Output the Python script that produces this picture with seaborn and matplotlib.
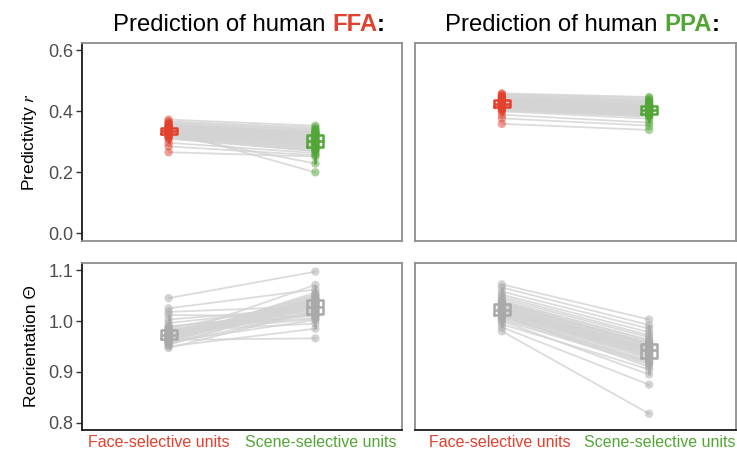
import seaborn as sns
import matplotlib.pyplot as plt
import matplotlib.transforms as mtransforms
import pandas as pd

categories = ['Face-selective units', 'Scene-selective units']
targets = ['FFA', 'PPA']

# predictivity r (top row)
ffa_face_r = [0.335, 0.342, 0.328, 0.351, 0.319, 0.362, 0.331, 0.345, 0.312, 0.338,
              0.325, 0.372, 0.347, 0.333, 0.296, 0.341, 0.329, 0.356, 0.318, 0.336,
              0.343, 0.322, 0.265, 0.349, 0.331, 0.358, 0.309, 0.327, 0.339, 0.284,
              0.344, 0.315, 0.334, 0.353, 0.324, 0.366, 0.337, 0.321, 0.330, 0.346]
ffa_scene_r = [0.305, 0.318, 0.292, 0.334, 0.276, 0.341, 0.299, 0.322, 0.268, 0.310,
               0.287, 0.352, 0.326, 0.301, 0.262, 0.315, 0.295, 0.331, 0.279, 0.307,
               0.320, 0.283, 0.251, 0.327, 0.298, 0.338, 0.270, 0.290, 0.312, 0.255,
               0.317, 0.274, 0.199, 0.329, 0.286, 0.346, 0.303, 0.228, 0.296, 0.323]
ppa_face_r = [0.425, 0.432, 0.418, 0.441, 0.409, 0.452, 0.421, 0.436, 0.402, 0.428,
              0.415, 0.458, 0.437, 0.423, 0.388, 0.431, 0.419, 0.446, 0.408, 0.426,
              0.433, 0.412, 0.358, 0.439, 0.421, 0.448, 0.399, 0.417, 0.429, 0.376,
              0.434, 0.405, 0.424, 0.443, 0.414, 0.455, 0.427, 0.411, 0.420, 0.436]
ppa_scene_r = [0.404, 0.413, 0.397, 0.425, 0.388, 0.437, 0.401, 0.418, 0.382, 0.407,
               0.394, 0.446, 0.419, 0.402, 0.362, 0.410, 0.398, 0.431, 0.386, 0.405,
               0.414, 0.391, 0.338, 0.421, 0.399, 0.433, 0.375, 0.395, 0.409, 0.352,
               0.416, 0.383, 0.403, 0.427, 0.392, 0.442, 0.406, 0.389, 0.400, 0.417]

# reorientation (bottom row)
ffa_face_o = [0.972, 0.965, 0.981, 0.958, 0.990, 0.969, 0.975, 0.953, 0.984, 0.962,
              1.045, 0.977, 0.967, 0.996, 0.959, 0.973, 0.988, 0.964, 0.979, 0.950,
              0.970, 1.012, 0.961, 0.983, 0.974, 0.956, 1.025, 0.968, 0.978, 0.963,
              0.986, 0.947, 0.971, 1.003, 0.966, 0.976, 0.955, 0.980, 1.018, 0.969]
ffa_scene_o = [1.028, 1.035, 1.019, 1.042, 1.011, 1.050, 1.024, 1.038, 1.006, 1.031,
               1.097, 1.015, 1.045, 1.027, 1.002, 1.040, 1.021, 1.056, 1.013, 0.985,
               1.033, 1.009, 1.048, 1.025, 1.036, 1.017, 1.062, 1.030, 1.004, 0.966,
               1.039, 1.020, 1.071, 1.026, 1.044, 1.012, 1.034, 0.995, 1.029, 1.052]
ppa_face_o = [1.022, 1.031, 1.015, 1.040, 1.008, 1.027, 1.019, 1.048, 1.002, 1.025,
              1.036, 1.011, 1.072, 1.020, 0.994, 1.029, 1.017, 1.058, 1.005, 1.024,
              1.033, 1.013, 0.980, 1.038, 1.021, 1.044, 1.000, 1.016, 1.028, 0.988,
              1.034, 1.009, 1.023, 1.066, 1.018, 1.052, 1.026, 1.012, 1.021, 1.035]
ppa_scene_o = [0.945, 0.952, 0.931, 0.963, 0.922, 0.948, 0.938, 0.972, 0.915, 0.943,
               0.956, 0.926, 1.003, 0.940, 0.905, 0.950, 0.934, 0.985, 0.918, 0.944,
               0.958, 0.929, 0.818, 0.961, 0.939, 0.968, 0.895, 0.933, 0.947, 0.875,
               0.954, 0.920, 0.942, 0.992, 0.936, 0.978, 0.946, 0.910, 0.941, 0.955]

RED = '#E2412D'
GREEN = '#52A636'
GRAY = '#A9A9A9'
LINE = '#D3D3D3'
BORDER = '#8E8E8E'

sns.set_style('white')
plt.rcParams['font.family'] = ['Liberation Sans', 'DejaVu Sans']
plt.rcParams['mathtext.fontset'] = 'stix'

fig = plt.figure(figsize=(7.37, 4.53), dpi=100)
W, H = 737, 453


def box(x0, y0, x1, y1):
    return [x0 / W, 1 - y1 / H, (x1 - x0) / W, (y1 - y0) / H]


cols = [(82, 402), (415, 736)]
rows = [(43, 241), (263, 430)]
# horizontal nudges (px) of the category labels under each column
label_shift = [(-10, 5), (-2, 11)]

panels = [
    [(ffa_face_r, ffa_scene_r), (ppa_face_r, ppa_scene_r)],
    [(ffa_face_o, ffa_scene_o), (ppa_face_o, ppa_scene_o)],
]

for i, (y0, y1) in enumerate(rows):
    for j, (x0, x1) in enumerate(cols):
        ax = fig.add_axes(box(x0, y0, x1, y1))
        face, scene = panels[i][j]
        n = len(face)
        df = pd.DataFrame({
            'unit': list(range(n)) * 2,
            'group': [categories[0]] * n + [categories[1]] * n,
            'pos': [0] * n + [1] * n,
            'value': face + scene,
        })
        pal = [RED, GREEN] if i == 0 else [GRAY, GRAY]

        sns.lineplot(data=df, x='pos', y='value', units='unit', estimator=None,
                     color=LINE, alpha=0.8, lw=1.3, ax=ax, zorder=1)
        sns.stripplot(data=df, x='pos', y='value', hue='group', palette=pal,
                      native_scale=True, jitter=False, dodge=False, size=6,
                      alpha=0.5, linewidth=0, legend=False, ax=ax, zorder=2)
        sns.boxplot(data=df, x='pos', y='value', hue='group', palette=pal,
                    native_scale=True, dodge=False, fill=False, width=0.11,
                    linewidth=1.8, showfliers=False, showcaps=False,
                    legend=False, ax=ax)

        ax.set_xlim(-0.59, 1.59)
        if i == 0:
            ax.set_ylim(-0.026, 0.623)
            ax.set_yticks([0.0, 0.2, 0.4, 0.6])
            ax.set_yticklabels(['0.0', '0.2', '0.4', '0.6'])
        else:
            ax.set_ylim(0.786, 1.114)
            ax.set_yticks([0.8, 0.9, 1.0, 1.1])
            ax.set_yticklabels(['0.8', '0.9', '1.0', '1.1'])

        ax.set_xlabel('')
        ax.set_ylabel('')
        ax.set_xticks([])
        if i == 1:
            for k, (lab, c) in enumerate(zip(categories, [RED, GREEN])):
                tr = (mtransforms.blended_transform_factory(ax.transData, ax.transAxes) +
                      mtransforms.ScaledTranslation(label_shift[j][k] / 100, -5 / 100,
                                                    fig.dpi_scale_trans))
                ax.text(k, 0, lab, transform=tr, ha='center', va='top',
                        fontsize=11.5, color=c)
        if j == 0:
            ax.tick_params(axis='y', length=4, width=1, color='#333333',
                           labelsize=13, labelcolor='#4D4D4D', pad=2, left=True)
            ax.set_ylabel('Predictivity $r$' if i == 0 else 'Reorientation Θ',
                          fontsize=12.5, color='black', labelpad=7)
        else:
            ax.tick_params(axis='y', length=0, labelleft=False)

        for s in ax.spines.values():
            s.set_color(BORDER)
            s.set_linewidth(1.3)
            s.set_visible(True)
        if j == 0:
            ax.spines['left'].set_color('#1A1A1A')
        if i == 1:
            ax.spines['bottom'].set_color('#1A1A1A')

# titles with mixed styling
renderer = fig.canvas.get_renderer()
fs = 17.2
space_px = fs * 0.278 * fig.dpi / 72
for (x0, x1), tgt, col in zip(cols, targets, [RED, GREEN]):
    pieces = [('Prediction of human', 'normal', 'black'),
              (tgt, 'bold', col),
              (':', 'bold', 'black')]
    objs = [fig.text(0, 1 - 31 / H, s, fontsize=fs, fontweight=w, color=c,
                     ha='left', va='baseline') for s, w, c in pieces]
    widths = [o.get_window_extent(renderer).width for o in objs]
    total = widths[0] + space_px + widths[1] + widths[2]
    start = (x0 + x1) / 2 - total / 2 + 7
    offs = [0, widths[0] + space_px, widths[0] + space_px + widths[1]]
    for o, off in zip(objs, offs):
        o.set_x((start + off) / W)

fig.savefig('out.png', dpi=100)
